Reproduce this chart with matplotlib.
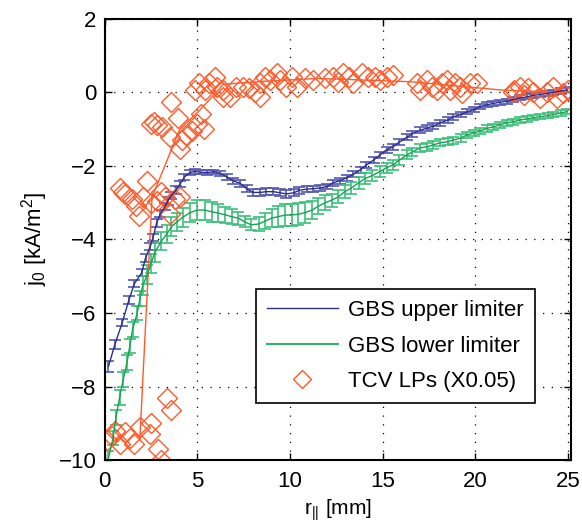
import matplotlib
matplotlib.use("Agg")
import matplotlib.pyplot as plt
from matplotlib.lines import Line2D

plt.rcParams['font.family'] = ['Liberation Sans', 'DejaVu Sans']
plt.rcParams['mathtext.fontset'] = 'custom'
plt.rcParams['mathtext.rm'] = 'Liberation Sans'
plt.rcParams['mathtext.it'] = 'Liberation Sans'

# GBS upper limiter
x_up = [0.2, 0.55, 0.95, 1.3, 1.6, 2.0, 2.2, 2.45, 2.6, 2.8, 3.0, 3.25, 3.4, 3.6, 3.85,
        4.05, 4.3, 4.6, 4.85, 5.15, 5.5, 5.85, 6.2, 6.6, 6.9, 7.3, 7.65, 8.0, 8.4, 8.7,
        9.1, 9.45, 9.8, 10.2, 10.5, 10.9, 11.25, 11.6, 12.0, 12.3, 12.7, 13.05, 13.4, 13.8,
        14.1, 14.5, 14.85, 15.2, 15.55, 15.9, 16.3, 16.6, 17.0, 17.4, 17.7, 18.1, 18.5,
        18.8, 19.2, 19.55, 19.9, 20.25, 20.6, 20.95, 21.3, 21.7, 22.0, 22.4, 22.8, 23.1,
        23.5, 23.9, 24.2, 24.6, 24.95]
y_up = [-7.45, -6.85, -6.25, -5.65, -5.2, -4.9, -4.5, -4.2, -3.95, -3.55, -3.3, -3.1, -2.95,
        -2.8, -2.65, -2.5, -2.3, -2.18, -2.15, -2.17, -2.18, -2.16, -2.2, -2.3, -2.4, -2.47,
        -2.62, -2.72, -2.72, -2.7, -2.7, -2.73, -2.76, -2.73, -2.66, -2.63, -2.62, -2.6,
        -2.56, -2.46, -2.4, -2.32, -2.23, -2.1, -1.98, -1.84, -1.7, -1.56, -1.48, -1.35,
        -1.22, -1.12, -1.03, -0.97, -0.92, -0.83, -0.75, -0.67, -0.6, -0.53, -0.47, -0.39,
        -0.34, -0.3, -0.27, -0.24, -0.2, -0.15, -0.12, -0.08, -0.06, -0.02, 0.0, 0.04, 0.07]
e_up = [0.15, 0.12, 0.1, 0.1, 0.1, 0.1, 0.1, 0.1, 0.1, 0.1, 0.1, 0.1, 0.1, 0.1, 0.1,
        0.08, 0.08, 0.06, 0.06, 0.06, 0.06, 0.06, 0.07, 0.08, 0.08, 0.1, 0.1, 0.1, 0.1, 0.1,
        0.1, 0.1, 0.1, 0.1, 0.1, 0.08, 0.08, 0.08, 0.08, 0.08, 0.08, 0.08, 0.08, 0.08,
        0.08, 0.08, 0.08, 0.08, 0.08, 0.08, 0.08, 0.08, 0.08, 0.08, 0.08, 0.08, 0.08,
        0.07, 0.07, 0.07, 0.07, 0.07, 0.07, 0.07, 0.07, 0.07, 0.07, 0.07, 0.07, 0.07,
        0.07, 0.07, 0.07, 0.07, 0.07]

# GBS lower limiter
x_lo = [0.2, 0.45, 0.6, 0.8, 1.0, 1.2, 1.35, 1.5, 1.75, 1.9, 2.05, 2.3, 2.5, 2.7, 3.05,
        3.35, 3.6, 3.9, 4.2, 4.6, 5.0, 5.4, 5.8, 6.1, 6.5, 6.85, 7.2, 7.55, 7.9, 8.3, 8.65,
        9.0, 9.35, 9.7, 10.1, 10.4, 10.8, 11.2, 11.5, 11.9, 12.25, 12.6, 12.95, 13.3, 13.7,
        14.05, 14.4, 14.85, 15.2, 15.55, 15.9, 16.3, 16.6, 17.0, 17.4, 17.7, 18.1, 18.5,
        18.8, 19.2, 19.55, 19.9, 20.25, 20.6, 20.95, 21.3, 21.7, 22.0, 22.4, 22.8, 23.1,
        23.5, 23.9, 24.2, 24.6, 24.95]
y_lo = [-9.95, -9.4, -8.85, -8.3, -7.8, -7.35, -6.9, -6.45, -6.0, -5.6, -5.25, -4.95, -4.65,
        -4.35, -4.05, -3.85, -3.65, -3.52, -3.4, -3.27, -3.2, -3.2, -3.25, -3.28, -3.33,
        -3.38, -3.42, -3.52, -3.6, -3.58, -3.5, -3.42, -3.38, -3.34, -3.33, -3.32, -3.27,
        -3.2, -3.1, -3.0, -2.93, -2.84, -2.7, -2.6, -2.46, -2.34, -2.27, -2.15, -2.05, -1.97,
        -1.84, -1.7, -1.62, -1.51, -1.48, -1.43, -1.37, -1.34, -1.3, -1.24, -1.16, -1.1,
        -1.05, -0.98, -0.94, -0.88, -0.83, -0.8, -0.75, -0.72, -0.69, -0.66, -0.63, -0.6,
        -0.56, -0.52]
e_lo = [0.2, 0.2, 0.2, 0.2, 0.2, 0.2, 0.2, 0.2, 0.2, 0.2, 0.25, 0.25, 0.25, 0.25, 0.25,
        0.25, 0.25, 0.25, 0.25, 0.25, 0.28, 0.28, 0.28, 0.25, 0.22, 0.2, 0.18, 0.15, 0.15,
        0.18, 0.22, 0.25, 0.28, 0.3, 0.3, 0.3, 0.28, 0.25, 0.22, 0.2, 0.18, 0.18, 0.18, 0.16,
        0.16, 0.15, 0.15, 0.14, 0.14, 0.13, 0.13, 0.12, 0.12, 0.12, 0.11, 0.11, 0.1, 0.1,
        0.1, 0.1, 0.09, 0.09, 0.09, 0.09, 0.08, 0.08, 0.08, 0.08, 0.08, 0.08, 0.07, 0.07,
        0.07, 0.07, 0.07, 0.07]

# TCV LPs (X0.05)
x_lp = [0.1, 0.4, 0.55, 0.8, 1.1, 1.35, 1.6, 1.9, 2.45, 2.5, 2.85, 3.05, 3.35, 3.6,
        0.8, 1.0, 1.1, 1.45, 1.7, 1.85, 2.05, 2.3, 2.5, 2.8, 3.05, 3.25, 3.5, 3.8, 4.05,
        2.5, 2.65, 2.8, 3.1, 3.6, 3.95, 3.5, 4.05, 4.15, 4.4, 4.7, 4.95, 5.2, 5.35,
        4.85, 5.1, 5.4, 5.65, 5.95, 6.05, 6.4, 6.4, 6.75, 7.1, 7.45, 7.8, 8.1, 8.4, 8.4,
        8.65, 8.9, 9.3, 9.45, 9.8, 10.1, 10.35, 10.8, 11.25,
        11.9, 12.3, 12.6, 12.85, 13.2, 13.4, 13.9, 14.2, 14.6, 14.85, 15.2, 15.55,
        16.85, 17.0, 17.4, 17.65, 17.9, 18.2, 18.45, 18.6, 18.9,
        19.15, 19.25, 19.7, 20.1, 22.0, 22.1, 22.4, 22.6, 22.85, 23.1, 23.5, 23.85, 24.2,
        24.4, 24.7, 25.0]
y_lp = [-9.45, -9.35, -9.2, -9.55, -9.25, -9.4, -9.55, -9.1, -9.3, -9.0, -9.7, -10.0, -8.3, -8.65,
        -2.6, -2.7, -2.75, -2.9, -3.1, -3.35, -2.85, -2.4, -3.0, -2.95, -2.7, -2.85, -3.3, -2.9, -2.85,
        -0.85, -0.8, -0.9, -0.93, -0.25, -0.7, -1.2, -1.55, -1.3, -1.15, -1.05, -0.85, -0.6, -1.0,
        0.07, 0.26, 0.07, 0.26, 0.42, 0.15, 0.07, -0.12, -0.12, 0.15, 0.15, 0.12, 0.02, 0.26, -0.12,
        0.42, 0.34, 0.53, 0.34, 0.15, 0.42, 0.15, 0.39, 0.34,
        0.39, 0.42, 0.29, 0.53, 0.42, 0.26, 0.53, 0.42, 0.42, 0.34, 0.42, 0.48,
        0.26, 0.07, 0.34, 0.15, 0.07, 0.26, 0.34, 0.07, 0.26,
        0.15, -0.01, 0.26, 0.26, 0.0, 0.07, 0.15, -0.07, 0.12, 0.02, -0.15, 0.02, 0.15,
        -0.15, -0.01, 0.07]

# binned mean of the probe data
x_lpm = [1.9, 2.55, 4.05, 5.1, 6.4, 8.5, 11.5, 16.5, 21.5, 25.1]
y_lpm = [-9.35, -2.85, -1.0, -0.5, 0.22, 0.3, 0.38, 0.29, 0.06, 0.0]

c_up = '#2b2f8f'
c_up_bar = '#5558b0'
c_lo = '#16a24f'
c_lo_bar = '#3cc07a'
c_lp = '#ff5a2a'

fig = plt.figure(figsize=(5.82, 5.24), dpi=100)
ax = fig.add_axes([0.180, 0.122, 0.801, 0.842])

ax.errorbar(x_up, y_up, yerr=e_up, fmt='-', color=c_up, ecolor=c_up_bar,
            lw=1, elinewidth=1.2, capsize=4, capthick=1.2)
ax.errorbar(x_lo, y_lo, yerr=e_lo, fmt='-', color=c_lo, ecolor=c_lo_bar,
            lw=1, elinewidth=1.2, capsize=4, capthick=1.2)
ax.plot(x_lpm, y_lpm, '-', color=c_lp, lw=1)
ax.plot(x_lp, y_lp, 'D', color=c_lp, mfc='none', mew=1, ms=10, linestyle='none')

ax.set_xlim(0, 25.15)
ax.set_ylim(-10, 2)
ax.set_xticks([0, 5, 10, 15, 20, 25])
ax.set_yticks([-10, -8, -6, -4, -2, 0, 2])
ax.set_yticklabels(['\u221210', '\u22128', '\u22126', '\u22124', '\u22122', '0', '2'])
ax.tick_params(direction='in', top=True, right=True, length=5, width=1, labelsize=16)
ax.tick_params(axis='x', pad=8)
ax.tick_params(axis='y', pad=6)
for s in ax.spines.values():
    s.set_linewidth(1.5)
ax.grid(True, linestyle=(0, (1, 6)), color='k', lw=0.9)

ax.set_xlabel(r'r$_{||}$ [mm]', fontsize=15, labelpad=4)
ax.set_ylabel(r'j$_0$ [kA/m$^2$]', fontsize=16, labelpad=6)

handles = [Line2D([], [], color=c_up, lw=1),
           Line2D([], [], color=c_lo, lw=1.5, alpha=0.85),
           Line2D([], [], color=c_lp, marker='D', mfc='none', ms=9, linestyle='none')]
labels = ['GBS upper limiter', 'GBS lower limiter', 'TCV LPs (X0.05)']
leg = ax.legend(handles, labels, loc='lower left', bbox_to_anchor=(0.324, 0.129),
                borderaxespad=0, fontsize=16, handlelength=3.2, handletextpad=0.45,
                labelspacing=0.65, borderpad=0.5, fancybox=False, framealpha=1,
                edgecolor='k')
leg.get_frame().set_linewidth(1.2)

fig.savefig('out.png', dpi=100)
